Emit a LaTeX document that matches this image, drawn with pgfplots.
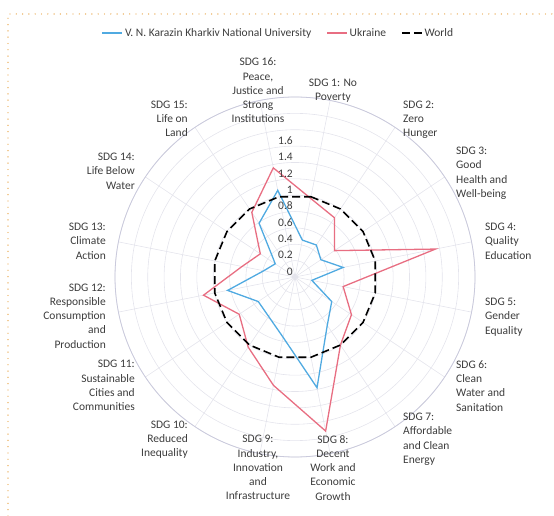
\documentclass[border=0pt]{standalone}
\usepackage{pgfplots}
\pgfplotsset{compat=1.18}
\usepgfplotslibrary{polar}
\usepackage{fontspec}
\setmainfont{Carlito}
\definecolor{kblue}{HTML}{50AAE1}
\definecolor{upink}{HTML}{E86E82}
\definecolor{gridc}{HTML}{E4E4EC}
\definecolor{outerc}{HTML}{CACADC}
\definecolor{textc}{HTML}{3C3C3C}
\definecolor{borderc}{HTML}{E8A54A}
\newcommand{\lf}{\fontsize{11.5}{14.2}\selectfont}
\begin{document}
\begin{tikzpicture}
\useasboundingbox (0,0) rectangle (554pt,516pt);
\draw[borderc, line width=1.4pt, line cap=round, dash pattern=on 0pt off 6.3pt] (8pt,0pt) -- (8pt,502pt) -- (554pt,502pt);
\begin{polaraxis}[
  width=360pt, height=360pt, scale only axis,
  at={(295pt,239pt)}, anchor=center,
  xmin=0, xmax=360, ymin=0, ymax=2.2,
  xtick={11.25,33.75,56.25,78.75,101.25,123.75,146.25,168.75,191.25,213.75,236.25,258.75,281.25,303.75,326.25,348.75},
  ytick={0.2,0.4,0.6,0.8,1,1.2,1.4,1.6,1.8,2,2.2},
  xticklabels={}, yticklabels={},
  xticklabel style={text opacity=0, opacity=0},
  yticklabel style={text opacity=0, opacity=0},
  grid=major,
  major grid style={draw=gridc, line width=0.6pt},
  separate axis lines,
  x axis line style={draw=outerc, line width=0.8pt},
  y axis line style={draw=none},
  tick style={draw=none},
  clip=false,
  legend columns=3,
  legend style={at={(0.454,1.178)}, anchor=center, draw=none, fill=none,
    font=\lf, text=textc,
    /tikz/every even column/.append style={column sep=13pt}},
  legend image code/.code={\draw[#1] (0pt,0pt) -- (20pt,0pt);},
]
\addplot[kblue, line width=1.3pt, line join=miter] coordinates {
 (78.75,0.46) (56.25,0.47) (33.75,0.38) (11.25,0.60)
 (348.75,0.21) (326.25,0.54) (303.75,0.71) (281.25,1.38)
 (258.75,0.75) (236.25,0.58) (213.75,0.54) (191.25,0.84)
 (168.75,0.39) (146.25,0.29) (123.75,0.79) (101.25,1.08)
 (78.75,0.46)};
\addlegendentry{V. N. Karazin Kharkiv National University}
\addplot[upink, line width=1.3pt, line join=miter] coordinates {
 (78.75,0.98) (56.25,0.87) (33.75,0.58) (11.25,1.75)
 (348.75,0.60) (326.25,0.83) (303.75,1.00) (281.25,1.92)
 (258.75,1.35) (236.25,1.03) (213.75,0.82) (191.25,1.14)
 (168.75,0.66) (146.25,0.51) (123.75,0.95) (101.25,1.36)
 (78.75,0.98)};
\addlegendentry{Ukraine}
\addplot[black, line width=1.6pt, dash pattern=on 8pt off 4pt] coordinates {
 (78.75,1) (56.25,1) (33.75,1) (11.25,1)
 (348.75,1) (326.25,1) (303.75,1) (281.25,1)
 (258.75,1) (236.25,1) (213.75,1) (191.25,1)
 (168.75,1) (146.25,1) (123.75,1) (101.25,1)
 (78.75,1)};
\addlegendentry{World}
\begin{scope}[every node/.style={anchor=east, font=\lf, text=textc, inner sep=0pt, xshift=-2pt, yshift=5.5pt}]
\node at (axis cs:90,0) {0};
\node at (axis cs:90,0.2) {0.2};
\node at (axis cs:90,0.4) {0.4};
\node at (axis cs:90,0.6) {0.6};
\node at (axis cs:90,0.8) {0.8};
\node at (axis cs:90,1) {1};
\node at (axis cs:90,1.2) {1.2};
\node at (axis cs:90,1.4) {1.4};
\node at (axis cs:90,1.6) {1.6};
\end{scope}
\end{polaraxis}
\begin{scope}[every node/.style={font=\lf, text=textc, inner sep=0pt}]
\node[anchor=north, align=center] at (258pt,458pt) {SDG 16:\\Peace,\\Justice and\\Strong\\Institutions};
\node[anchor=north, align=center] at (333pt,437pt) {SDG 1: No\\Poverty};
\node[anchor=north west, align=left] at (403pt,415.4pt) {SDG 2:\\Zero\\Hunger};
\node[anchor=north west, align=left] at (456pt,369pt) {SDG 3:\\Good\\Health and\\Well-being};
\node[anchor=north west, align=left] at (485pt,293pt) {SDG 4:\\Quality\\Education};
\node[anchor=north west, align=left] at (485pt,218pt) {SDG 5:\\Gender\\Equality};
\node[anchor=north west, align=left] at (456pt,155.4pt) {SDG 6:\\Clean\\Water and\\Sanitation};
\node[anchor=north west, align=left] at (403pt,103pt) {SDG 7:\\Affordable\\and Clean\\Energy};
\node[anchor=north, align=center] at (333pt,80.7pt) {SDG 8:\\Decent\\Work and\\Economic\\Growth};
\node[anchor=north, align=center] at (258pt,80.7pt) {SDG 9:\\Industry,\\Innovation\\and\\Infrastructure};
\node[anchor=north east, align=right] at (188pt,95.4pt) {SDG 10:\\Reduced\\Inequality};
\node[anchor=north east, align=right] at (135pt,155.7pt) {SDG 11:\\Sustainable\\Cities and\\Communities};
\node[anchor=north east, align=right] at (106pt,232.4pt) {SDG 12:\\Responsible\\Consumption\\and\\Production};
\node[anchor=north east, align=right] at (106pt,293pt) {SDG 13:\\Climate\\Action};
\node[anchor=north east, align=right] at (135pt,363pt) {SDG 14:\\Life Below\\Water};
\node[anchor=north east, align=right] at (188pt,415.4pt) {SDG 15:\\Life on\\Land};
\end{scope}
\end{tikzpicture}
\end{document}
